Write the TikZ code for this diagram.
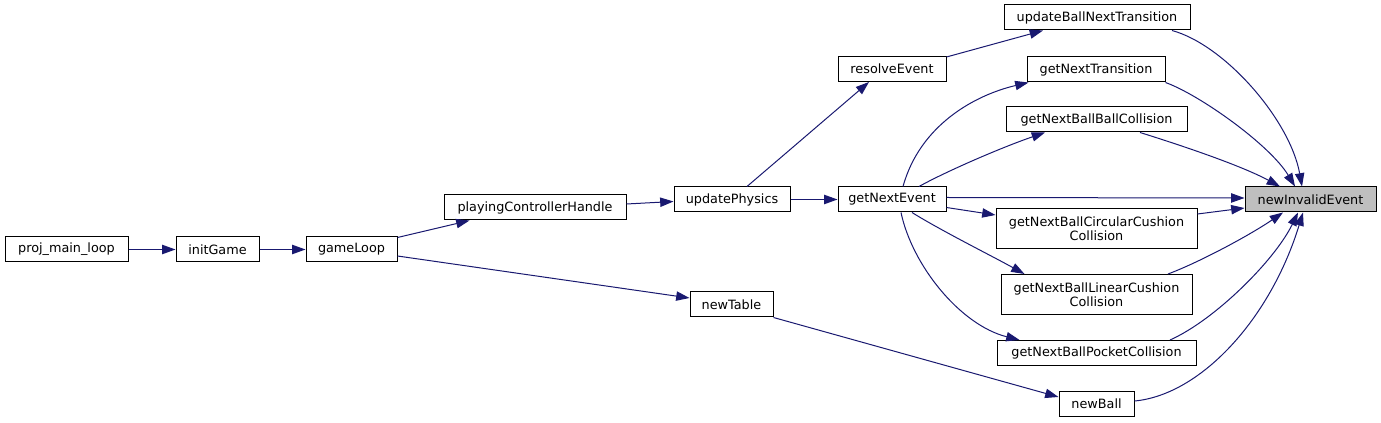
\documentclass[tikz,border=0pt]{standalone}
\usepackage{fontspec}
\setmainfont{DejaVu Sans}
\usetikzlibrary{arrows.meta,calc}
\definecolor{edgeblue}{HTML}{191970}
\definecolor{rootfill}{HTML}{BFBFBF}
\tikzset{
  fn/.style={draw=black, line width=0.75pt, fill=white, rectangle, inner sep=0pt,
    minimum height=18.75pt, align=center, font=\fontsize{9.6}{10.8}\selectfont},
  fntwo/.style={fn, minimum height=30pt},
  call/.style={draw=edgeblue, line width=0.75pt, -{Triangle[length=10pt,width=7pt]}, fill=none},
}
\begin{document}
\begin{tikzpicture}[x=0.75pt,y=-0.75pt]
\useasboundingbox (0,0) rectangle (1381,423);
% nodes
\node[fn, minimum width=92.25pt] (pml) at (66.5,249.5) {proj\_main\_loop};
\node[fn, minimum width=62.25pt] (ig) at (217.5,249.5) {initGame};
\node[fn, minimum width=68.25pt] (gl) at (351.5,249.5) {gameLoop};
\node[fn, minimum width=136.5pt] (pch) at (535,207.5) {playingControllerHandle};
\node[fn, minimum width=87pt] (up) at (732,199.5) {updatePhysics};
\node[fn, minimum width=81pt] (gne) at (892,199.5) {getNextEvent};
\node[fn, minimum width=81pt] (re) at (892,69) {resolveEvent};
\node[fn, minimum width=62.25pt] (nt) at (731.5,304.5) {newTable};
\node[fn, minimum width=139.5pt] (ubnt) at (1097,17.5) {updateBallNextTransition};
\node[fn, minimum width=103.5pt] (gnt) at (1096,69.5) {getNextTransition};
\node[fn, minimum width=135.75pt] (gnbbc) at (1096.5,119.5) {getNextBallBallCollision};
\node[fntwo, minimum width=150.75pt] (circ) at (1096.5,229) {getNextBallCircularCushion\\Collision};
\node[fntwo, minimum width=143.25pt] (lin) at (1096.5,294.5) {getNextBallLinearCushion\\Collision};
\node[fn, minimum width=149.25pt] (pocket) at (1096.5,353) {getNextBallPocketCollision};
\node[fn, minimum width=56.25pt] (nb) at (1096.5,404) {newBall};
\node[fn, minimum width=98.25pt, fill=rootfill] (nie) at (1310.5,199.5) {newInvalidEvent};
% edges
\draw[call] (pml.east) -- (ig.west);
\draw[call] (ig.east) -- (gl.west);
\draw[call] ($(gl.north east)+(0,1)$) -- ($(pch.south west)+(26,0)$);
\draw[call] ($(gl.east)+(0,6.5)$) -- ($(nt.west)+(0,-6.5)$);
\draw[call] ($(pch.east)+(0,-3.5)$) -- ($(up.west)+(0,2)$);
\draw[call] ($(up.north)+(15,0)$) -- ($(re.south)+(-23,0)$);
\draw[call] (up.east) -- (gne.west);
\draw[call] ($(re.north east)+(0,1)$) -- ($(ubnt.south)+(-54,0)$);
\draw[call] ($(gne.north)+(11,0)$) .. controls (920,125) and (975,95) .. ($(gnt.south west)+(2,0)$);
\draw[call] ($(gne.north)+(27,0)$) .. controls (945,172) and (1000,148) .. ($(gnbbc.south)+(-51.5,0)$);
\draw[call] ($(gne.east)+(0,-2)$) -- ($(nie.west)+(0,-1.5)$);
\draw[call] ($(gne.east)+(0,8)$) -- ($(circ.west)+(0,-14)$);
\draw[call] ($(gne.south)+(20,0)$) .. controls (940,230) and (990,255) .. ($(lin.north west)+(24,0)$);
\draw[call] ($(gne.south)+(9,0)$) .. controls (912,265) and (960,325) .. ($(pocket.north west)+(23,0)$);
\draw[call] (nt.south east) -- ($(nb.west)+(0,-7)$);
\draw[call] ($(ubnt.south)+(75,0)$) .. controls (1225,45) and (1290,120) .. ($(nie.north)+(-8.5,0)$);
\draw[call] (gnt.south east) .. controls (1200,95) and (1270,145) .. ($(nie.north)+(-15.5,0)$);
\draw[call] ($(gnbbc.south)+(43.5,0)$) .. controls (1180,145) and (1240,165) .. ($(nie.north)+(-30.5,0)$);
\draw[call] ($(circ.east)+(0,-15)$) -- ($(nie.west)+(0,8.5)$);
\draw[call] ($(lin.north)+(71.5,0)$) .. controls (1200,262) and (1250,235) .. ($(nie.south)+(-27.5,0)$);
\draw[call] ($(pocket.north)+(73.5,0)$) .. controls (1215,320) and (1275,260) .. ($(nie.south)+(-12.5,0)$);
\draw[call] ($(nb.east)+(0,-3)$) .. controls (1200,395) and (1270,320) .. ($(nie.south)+(-7.5,0)$);
\end{tikzpicture}
\end{document}
